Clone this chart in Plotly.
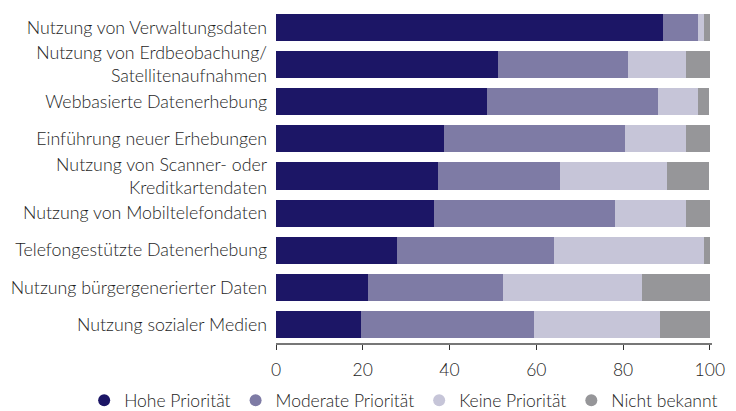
import plotly.graph_objects as go

categories = [
    "Nutzung von Verwaltungsdaten",
    "Nutzung von Erdbeobachung/<br>Satellitenaufnahmen",
    "Webbasierte Datenerhebung",
    "Einführung neuer Erhebungen",
    "Nutzung von Scanner- oder<br>Kreditkartendaten",
    "Nutzung von Mobiltelefondaten",
    "Telefongestützte Datenerhebung",
    "Nutzung bürgergenerierter Daten",
    "Nutzung sozialer Medien",
]
hohe = [89.2, 51.2, 48.6, 38.8, 37.4, 36.5, 27.8, 21.1, 19.7]
moderate = [8.0, 30.0, 39.5, 41.7, 28.0, 41.7, 36.2, 31.2, 39.7]
keine = [1.4, 13.3, 9.1, 14.0, 24.7, 16.3, 34.6, 32.1, 29.1]
nicht = [1.4, 5.5, 2.6, 5.5, 9.7, 5.5, 1.4, 15.6, 11.5]
series_names = ["Hohe Priorität", "Moderate Priorität", "Keine Priorität", "Nicht bekannt"]
colors = ["#1c1666", "#7e7ba5", "#c6c5d8", "#969699"]
tick_vals = [0, 20, 40, 60, 80, 100]

FONT = "Lato"
TXT = "#1e1e1e"
fig = go.Figure()
for name, vals, col in zip(series_names, [hohe, moderate, keine, nicht], colors):
    fig.add_trace(go.Bar(
        y=categories, x=vals, orientation="h", name=name,
        marker=dict(color=col, line=dict(width=0)),
        showlegend=False, hoverinfo="x+name",
    ))
for name, col in zip(series_names, colors):
    fig.add_trace(go.Scatter(
        x=[None], y=[None], mode="markers", name=name,
        marker=dict(symbol="circle", size=15, color=col),
    ))

fig.update_layout(
    barmode="stack",
    bargap=0.27,
    width=736, height=411,
    margin=dict(l=276, r=24, t=9, b=68, autoexpand=False),
    paper_bgcolor="white", plot_bgcolor="white",
    font=dict(family=FONT, size=17, color=TXT, weight=300),
    legend=dict(
        orientation="h", x=-0.44, xanchor="left", xref="paper",
        y=-0.118, yanchor="top", yref="paper",
        font=dict(size=17.5, family=FONT, color=TXT, weight=300),
        itemsizing="constant", traceorder="normal",
        itemwidth=30,
    ),
    xaxis=dict(
        range=[0, 100.5], tickvals=tick_vals, showgrid=False, zeroline=False,
        showline=True, linecolor="#777777", linewidth=1.5,
        ticks="outside", ticklen=5, tickcolor="#333333", tickwidth=1,
        ticklabelstandoff=5,
        tickfont=dict(size=17.5, family=FONT, color=TXT, weight=300),
        fixedrange=True, automargin=False,
    ),
    yaxis=dict(
        autorange="reversed", showgrid=False, showline=False,
        ticks="", ticklabelstandoff=8, automargin=False,
        tickfont=dict(size=17.8, family=FONT, color=TXT, weight=300),
        fixedrange=True,
    ),
)
fig.write_html("out.html", config={"displayModeBar": False},
               post_script="document.body.style.margin='0';")
